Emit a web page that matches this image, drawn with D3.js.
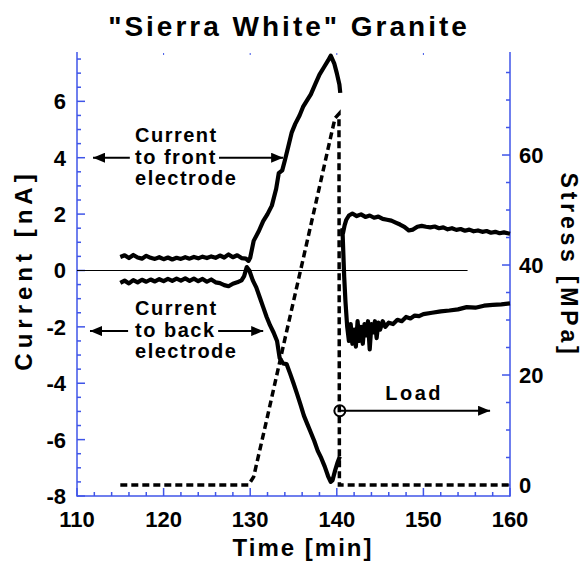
<!DOCTYPE html>
<html>
<head>
<meta charset="utf-8">
<script src="https://cdn.jsdelivr.net/npm/d3@7"></script>
<style>
body { margin:0; background:#fff; }
text { font-family:"Liberation Sans", Arial, sans-serif; font-weight:bold; fill:#000; }
</style>
</head>
<body>
<div id="chart"></div>
<script>
// time [min] / current [nA] / stress [MPa]
var frontT = [115,115.5,116,116.5,117,117.5,118,118.5,119,119.5,120,120.5,121,121.5,122,122.5,123,123.5,124,124.5,125,125.5,126,126.5,127,127.5,128,128.5,129,129.5,129.8,130,
  130.4,131,131.5,132,132.5,133,133.3,133.7,134,134.4,134.8,135.2,135.7,136.1,136.6,137,137.5,138,138.5,139,139.3,139.7,140,140.3,140.4,
  null,
  140.7,140.9,141.1,141.4,141.8,142.3,142.8,143.3,143.8,144.3,144.8,145.3,145.8,146.3,146.8,147.3,147.8,148.3,148.8,149.3,149.8,150.3,150.8,151.3,151.8,152.3,152.8,153.3,153.8,154.3,154.8,155.3,155.8,156.3,156.8,157.3,157.8,158.3,158.8,159.3,160];
var frontI = [0.48,0.54,0.44,0.55,0.46,0.42,0.52,0.45,0.41,0.47,0.4,0.46,0.39,0.45,0.41,0.47,0.42,0.48,0.43,0.49,0.44,0.5,0.45,0.53,0.46,0.57,0.47,0.54,0.44,0.42,0.34,0.45,
  1.05,1.4,1.75,2.0,2.3,2.9,3.45,3.55,3.9,4.4,4.9,5.2,5.5,5.8,6.05,6.25,6.6,6.95,7.2,7.45,7.62,7.35,7.0,6.6,6.3,
  null,
  1.3,1.6,1.8,1.95,2.02,1.93,1.99,1.9,1.95,1.87,1.91,1.83,1.8,1.77,1.7,1.63,1.55,1.42,1.45,1.55,1.58,1.55,1.53,1.56,1.5,1.53,1.46,1.5,1.44,1.47,1.41,1.45,1.39,1.42,1.37,1.4,1.34,1.37,1.32,1.35,1.3];

var backT = [115,115.5,116,116.5,117,117.5,118,118.5,119,119.5,120,120.5,121,121.5,122,122.5,123,123.5,124,124.5,125,125.5,126,126.5,127,127.5,128,128.5,129,129.3,129.6,129.9,
  130.3,130.7,131.1,131.5,131.9,132.3,132.7,133.1,133.4,133.8,134.2,134.6,135,135.4,135.8,136.2,136.6,137,137.4,137.8,138.2,138.6,139,139.3,139.5,139.8,140.1,140.35,
  null,
  140.65,140.85,141,141.2,141.4,141.6,141.8,142,142.2,142.4,142.6,142.8,143,143.2,143.4,143.6,143.8,144,144.2,144.4,144.6,144.8,145,145.3,145.6,146,146.5,147,147.5,148,148.5,149,149.5,150,151,152,153,154,155,156,157,158,159,160];
var backI = [-0.44,-0.36,-0.46,-0.34,-0.42,-0.33,-0.4,-0.32,-0.39,-0.31,-0.38,-0.3,-0.37,-0.29,-0.36,-0.28,-0.37,-0.29,-0.38,-0.3,-0.4,-0.32,-0.42,-0.45,-0.52,-0.56,-0.47,-0.42,-0.35,-0.2,0.12,0.0,
  -0.35,-0.6,-0.95,-1.3,-1.65,-1.95,-2.2,-2.5,-3.1,-3.3,-3.32,-3.65,-4.0,-4.37,-4.75,-5.15,-5.45,-5.75,-6.05,-6.4,-6.65,-6.95,-7.3,-7.5,-7.45,-7.1,-6.8,-6.6,
  null,
  1.5,-0.2,-1.1,-2.0,-2.5,-1.9,-2.6,-2.1,-2.7,-1.8,-2.5,-2.0,-2.6,-1.9,-2.3,-1.8,-2.8,-1.9,-2.2,-1.8,-2.4,-1.85,-2.1,-1.8,-2.0,-1.85,-1.9,-1.75,-1.8,-1.65,-1.7,-1.6,-1.62,-1.55,-1.5,-1.45,-1.42,-1.38,-1.3,-1.32,-1.25,-1.22,-1.2,-1.17];

var stressT = [115,129.8,130.4,132,134,136,138,139.5,139.8,140.25,140.3,160];
var stressP = [0,0,1.5,12.5,26.5,40.3,54.2,64.7,66.7,67.5,0,0];

var xTicks = [110,120,130,140,150,160];
var yTicks = [-8,-6,-4,-2,0,2,4,6];
var sTicks = [0,20,40,60];

var w = 584, h = 564;
var blue = "#3f55e8";

var svg = d3.select("#chart")
  .append("svg")
  .attr("width", w)
  .attr("height", h);

var x = d3.scaleLinear().domain([110,160]).range([77,510]);
var y = d3.scaleLinear().domain([-8,7.75]).range([496,52]);
var s = d3.scaleLinear().domain([-2,78.73]).range([496,52]);

// arrowhead
svg.append("defs").append("marker")
  .attr("id","head")
  .attr("markerUnits","userSpaceOnUse")
  .attr("viewBox","0 0 12 10")
  .attr("refX",12).attr("refY",5)
  .attr("markerWidth",13).attr("markerHeight",10)
  .attr("orient","auto")
  .append("path")
  .attr("d","M0,0L12,5L0,10Z")
  .attr("fill","#000");

// axes
var xMinor = d3.range(110,161,2);
var yMinor = d3.range(-8,7.76,0.5);
var sMinor = d3.range(0,78,5);

var ax = svg.append("g").attr("stroke",blue).attr("stroke-width",1.5);
ax.append("line").attr("x1",x(110)).attr("x2",x(160)).attr("y1",496).attr("y2",496);
ax.append("line").attr("x1",x(110)).attr("x2",x(110)).attr("y1",52).attr("y2",496.7);
ax.append("line").attr("x1",x(160)).attr("x2",x(160)).attr("y1",52).attr("y2",496.7);

ax.selectAll(".xt").data(xMinor).enter().append("line")
  .attr("x1",function(d){return x(d)}).attr("x2",function(d){return x(d)})
  .attr("y1",496).attr("y2",function(d){return d%10==0 ? 488 : 492});
ax.selectAll(".xtop").data([120,130,140,150]).enter().append("line")
  .attr("x1",function(d){return x(d)}).attr("x2",function(d){return x(d)})
  .attr("y1",53).attr("y2",55).attr("stroke-width",1);
ax.selectAll(".yt").data(yMinor).enter().append("line")
  .attr("y1",function(d){return y(d)}).attr("y2",function(d){return y(d)})
  .attr("x1",x(110)).attr("x2",function(d){return d%2==0 ? x(110)+8 : x(110)+4});
ax.selectAll(".st").data(sMinor).enter().append("line")
  .attr("y1",function(d){return s(d)}).attr("y2",function(d){return s(d)})
  .attr("x1",x(160)).attr("x2",function(d){return d%20==0 ? x(160)-8 : x(160)-4});

svg.selectAll(".xl").data(xTicks).enter().append("text")
  .attr("x",function(d){return x(d)}).attr("y",527)
  .attr("text-anchor","middle").style("font-size","22px")
  .text(function(d){return d});
svg.selectAll(".yl").data(yTicks).enter().append("text")
  .attr("x",66).attr("y",function(d){return y(d)}).attr("dy","0.36em")
  .attr("text-anchor","end").style("font-size","22px")
  .text(function(d){return d});
svg.selectAll(".sl").data(sTicks).enter().append("text")
  .attr("x",519).attr("y",function(d){return s(d)}).attr("dy","0.36em")
  .style("font-size","22px")
  .text(function(d){return d});

// titles
svg.append("text").attr("x",289).attr("y",36).attr("text-anchor","middle")
  .style("font-size","28px").style("letter-spacing","3px")
  .text('"Sierra White" Granite');
svg.append("text").attr("x",303).attr("y",556).attr("text-anchor","middle")
  .style("font-size","24px").style("letter-spacing","2px")
  .text("Time [min]");
svg.append("text").attr("transform","translate(32,270) rotate(-90)").attr("text-anchor","middle")
  .style("font-size","24px").style("letter-spacing","5px")
  .text("Current [nA]");
svg.append("text").attr("transform","translate(561,265) rotate(90)").attr("text-anchor","middle")
  .style("font-size","23px").style("letter-spacing","3.8px")
  .text("Stress [MPa]");

// zero line
svg.append("line").attr("x1",x(110)).attr("x2",x(155.1))
  .attr("y1",y(0)).attr("y2",y(0))
  .attr("stroke","#000").attr("stroke-width",1.2);

// curves
function series(tt, vv){
  return tt.map(function(t,i){return [t, vv[i]]});
}
var lineI = d3.line()
  .defined(function(d){return d[0]!=null})
  .x(function(d){return x(d[0])}).y(function(d){return y(d[1])});
var lineS = d3.line()
  .x(function(d){return x(d[0])}).y(function(d){return s(d[1])});

svg.append("path").datum(series(stressT,stressP))
  .attr("d",lineS).attr("fill","none")
  .attr("stroke","#000").attr("stroke-width",3.5)
  .attr("stroke-dasharray","7,4");

[series(frontT,frontI), series(backT,backI)].forEach(function(dd){
  svg.append("path").datum(dd)
    .attr("d",lineI).attr("fill","none")
    .attr("stroke","#000").attr("stroke-width",4.2)
    .attr("stroke-linejoin","round");
});

// annotations
function label(t0, yy, lines){
  var tx = svg.append("text").attr("x",x(t0)).attr("y",yy)
    .style("font-size","20px").style("letter-spacing","1.5px");
  lines.forEach(function(l,i){
    tx.append("tspan").attr("x",x(t0)).attr("dy",i==0?0:21.6).text(l);
  });
}
function arrow(t1, t2, yy){
  svg.append("line").attr("x1",x(t1)).attr("x2",x(t2))
    .attr("y1",yy).attr("y2",yy)
    .attr("stroke","#000").attr("stroke-width",2)
    .attr("marker-end","url(#head)");
}
label(116.7, y(4)-15.6, ["Current","to front","electrode"]);
arrow(116.1, 111.85, y(4));
arrow(126.4, 133.8, y(4));
label(116.7, y(-2.15)-16, ["Current","to back","electrode"]);
arrow(115.9, 111.5, y(-2.15));
arrow(126.3, 131.5, y(-2.15));

arrow(140.35, 157.7, s(13.5));
svg.append("circle").attr("cx",x(140.35)).attr("cy",s(13.5)).attr("r",5.5)
  .attr("fill","none").attr("stroke","#000").attr("stroke-width",2);
svg.append("text").attr("x",x(145.6)).attr("y",s(13.5)-11)
  .style("font-size","20px").style("letter-spacing","2.5px")
  .text("Load");
</script>
</body>
</html>
